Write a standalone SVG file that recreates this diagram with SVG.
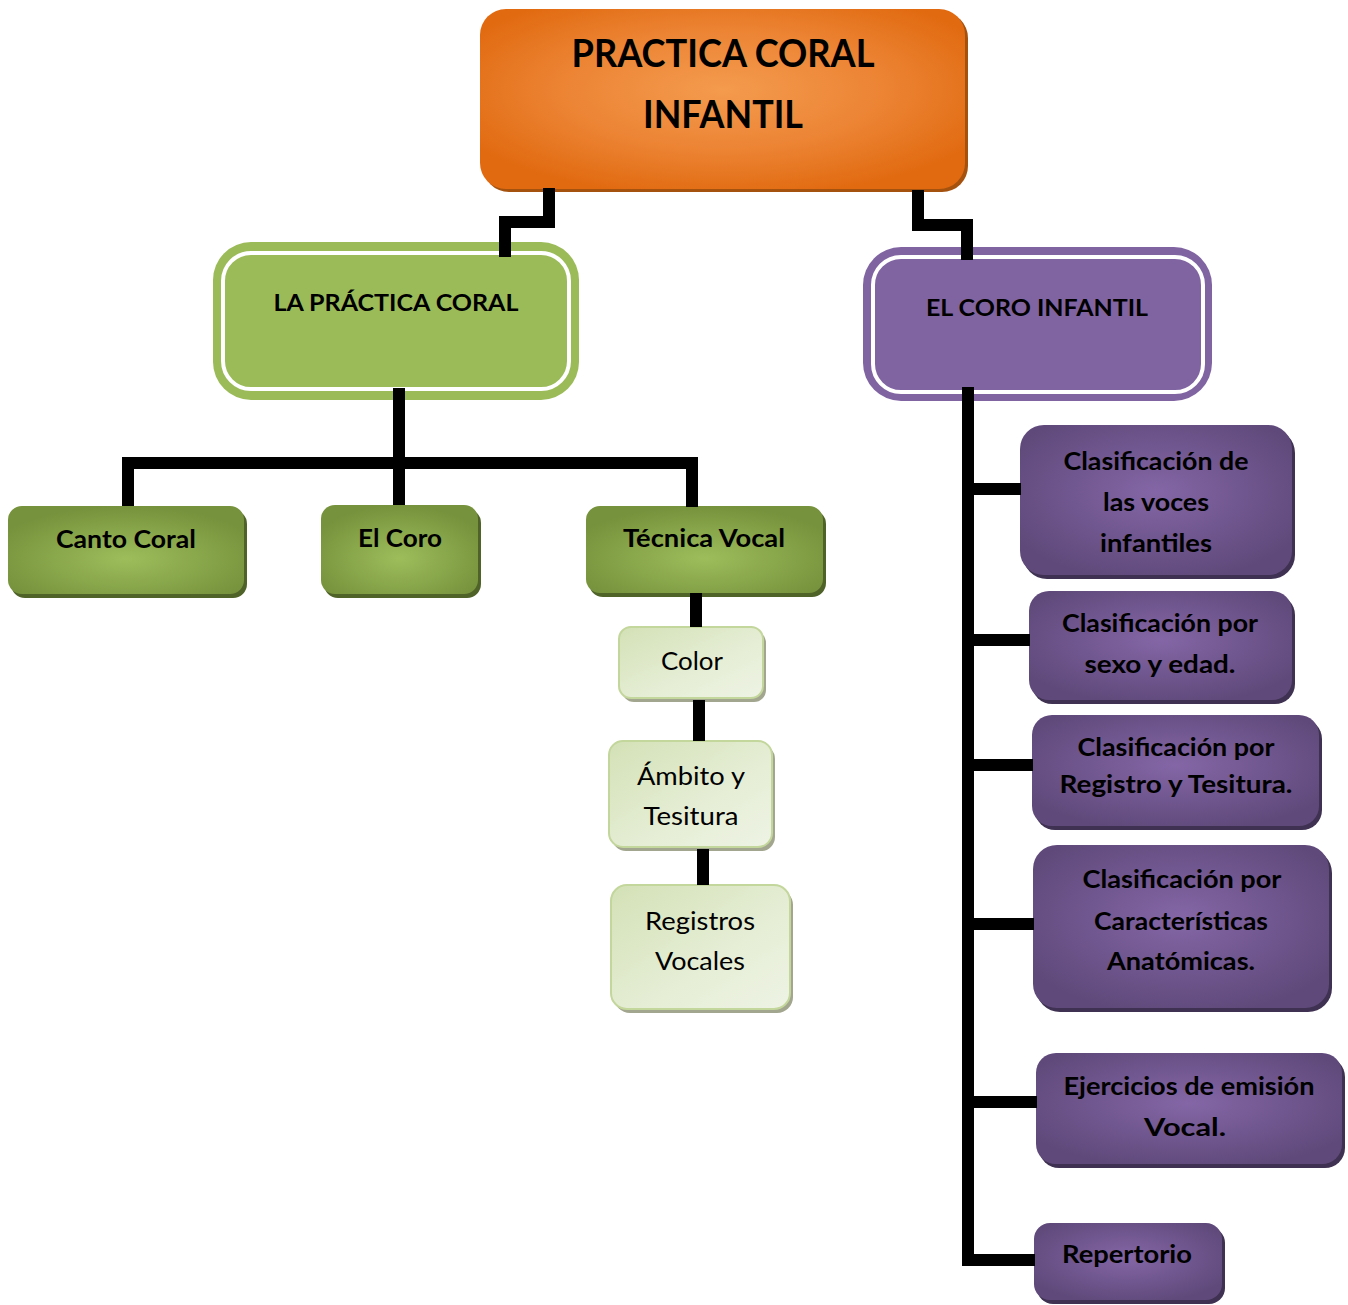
<svg xmlns="http://www.w3.org/2000/svg" width="1348" height="1305" viewBox="0 0 1348 1305">
<defs>
<radialGradient id="gOrange" cx="0.5" cy="0.45" r="0.6">
<stop offset="0" stop-color="#F49B4E"/><stop offset="0.55" stop-color="#EC8434"/><stop offset="1" stop-color="#E16A10"/>
</radialGradient>
<radialGradient id="gGreen" cx="0.5" cy="0.6" r="0.6">
<stop offset="0" stop-color="#9DBD5B"/><stop offset="1" stop-color="#76923C"/>
</radialGradient>
<linearGradient id="gLight" x1="0" y1="0" x2="1" y2="1">
<stop offset="0" stop-color="#D3E1B6"/><stop offset="0.6" stop-color="#E6EED6"/><stop offset="1" stop-color="#EEF3E4"/>
</linearGradient>
<radialGradient id="gPurple" cx="0.5" cy="0.45" r="0.6">
<stop offset="0" stop-color="#8466A6"/><stop offset="1" stop-color="#5F497A"/>
</radialGradient>
</defs>
<style>
.t{font-family:Lato,"Open Sans","Liberation Sans",sans-serif;fill:#000;text-anchor:middle}
.b{font-weight:bold}
.sh-o{fill:#A5520F}
.sh-g{fill:#4F6228}
.sh-l{fill:#A3A68E}
.sh-p{fill:#3F3151}
.lt{fill:url(#gLight);stroke:#C3D69B;stroke-width:2}
.dg{fill:url(#gGreen)}
.pp{fill:url(#gPurple)}
.wl{fill:none;stroke:#fff;stroke-width:4}
.c{fill:none;stroke:#000;stroke-width:12;stroke-linejoin:miter;stroke-linecap:butt}
</style>

<g id="node-root">
<rect class="sh-o" x="483" y="12" width="485" height="180" rx="26"/>
<rect fill="url(#gOrange)" x="480" y="9" width="485" height="180" rx="26"/>
<text class="t b" x="723" y="67" font-size="38" textLength="303" lengthAdjust="spacingAndGlyphs">PRACTICA CORAL</text>
<text class="t b" x="723" y="128" font-size="38" textLength="160" lengthAdjust="spacingAndGlyphs">INFANTIL</text>
</g>

<g id="node-practica">
<rect fill="#9BBB59" x="213" y="242" width="366" height="158" rx="38"/>
<rect class="wl" x="223" y="253" width="346" height="136" rx="28"/>
<text class="t b" x="396" y="311" font-size="23" textLength="245" lengthAdjust="spacingAndGlyphs">LA PRÁCTICA CORAL</text>
</g>

<g id="node-coro-infantil">
<rect fill="#8064A2" x="863" y="247" width="349" height="154" rx="38"/>
<rect class="wl" x="873" y="257" width="330" height="135" rx="28"/>
<text class="t b" x="1037" y="316" font-size="23" textLength="222" lengthAdjust="spacingAndGlyphs">EL CORO INFANTIL</text>
</g>

<g id="node-canto">
<rect class="sh-g" x="11" y="510" width="236" height="88" rx="14"/>
<rect class="dg" x="8" y="506" width="236" height="88" rx="14"/>
<text class="t b" x="126" y="548" font-size="25" textLength="140" lengthAdjust="spacingAndGlyphs">Canto Coral</text>
</g>

<g id="node-elcoro">
<rect class="sh-g" x="324" y="509" width="157" height="89" rx="14"/>
<rect class="dg" x="321" y="505" width="157" height="89" rx="14"/>
<text class="t b" x="400" y="547" font-size="25" textLength="84" lengthAdjust="spacingAndGlyphs">El Coro</text>
</g>

<g id="node-tecnica">
<rect class="sh-g" x="589" y="510" width="237" height="87" rx="14"/>
<rect class="dg" x="586" y="506" width="237" height="87" rx="14"/>
<text class="t b" x="704" y="547" font-size="25" textLength="162" lengthAdjust="spacingAndGlyphs">Técnica Vocal</text>
</g>

<g id="node-color">
<rect class="sh-l" x="622" y="631" width="144" height="71" rx="12"/>
<rect class="lt" x="619" y="627" width="144" height="71" rx="12"/>
<text class="t" x="692" y="670" font-size="25" textLength="62" lengthAdjust="spacingAndGlyphs">Color</text>
</g>

<g id="node-ambito">
<rect class="sh-l" x="612" y="745" width="163" height="106" rx="14"/>
<rect class="lt" x="609" y="741" width="163" height="106" rx="14"/>
<text class="t" x="691" y="785" font-size="25" textLength="108" lengthAdjust="spacingAndGlyphs">Ámbito y</text>
<text class="t" x="691" y="825" font-size="25" textLength="95" lengthAdjust="spacingAndGlyphs">Tesitura</text>
</g>

<g id="node-registros">
<rect class="sh-l" x="614" y="889" width="179" height="124" rx="16"/>
<rect class="lt" x="611" y="885" width="179" height="124" rx="16"/>
<text class="t" x="700" y="930" font-size="25" textLength="110" lengthAdjust="spacingAndGlyphs">Registros</text>
<text class="t" x="700" y="970" font-size="25" textLength="90" lengthAdjust="spacingAndGlyphs">Vocales</text>
</g>

<g id="node-clas-voces">
<rect class="sh-p" x="1023" y="429" width="272" height="150" rx="24"/>
<rect class="pp" x="1020" y="425" width="272" height="150" rx="24"/>
<text class="t b" x="1156" y="470" font-size="24" textLength="185" lengthAdjust="spacingAndGlyphs">Clasificación de</text>
<text class="t b" x="1156" y="511" font-size="24" textLength="106" lengthAdjust="spacingAndGlyphs">las voces</text>
<text class="t b" x="1156" y="552" font-size="24" textLength="112" lengthAdjust="spacingAndGlyphs">infantiles</text>
</g>

<g id="node-clas-sexo">
<rect class="sh-p" x="1032" y="595" width="263" height="109" rx="20"/>
<rect class="pp" x="1029" y="591" width="263" height="109" rx="20"/>
<text class="t b" x="1160" y="632" font-size="24" textLength="196" lengthAdjust="spacingAndGlyphs">Clasificación por</text>
<text class="t b" x="1160" y="673" font-size="24" textLength="151" lengthAdjust="spacingAndGlyphs">sexo y edad.</text>
</g>

<g id="node-clas-registro">
<rect class="sh-p" x="1035" y="719" width="287" height="111" rx="20"/>
<rect class="pp" x="1032" y="715" width="287" height="111" rx="20"/>
<text class="t b" x="1176" y="756" font-size="24" textLength="197" lengthAdjust="spacingAndGlyphs">Clasificación por</text>
<text class="t b" x="1176" y="793" font-size="24" textLength="233" lengthAdjust="spacingAndGlyphs">Registro y Tesitura.</text>
</g>

<g id="node-clas-anat">
<rect class="sh-p" x="1036" y="849" width="296" height="163" rx="24"/>
<rect class="pp" x="1033" y="845" width="296" height="163" rx="24"/>
<text class="t b" x="1182" y="888" font-size="24" textLength="199" lengthAdjust="spacingAndGlyphs">Clasificación por</text>
<text class="t b" x="1181" y="930" font-size="24" textLength="174" lengthAdjust="spacingAndGlyphs">Características</text>
<text class="t b" x="1181" y="970" font-size="24" textLength="148" lengthAdjust="spacingAndGlyphs">Anatómicas.</text>
</g>

<g id="node-ejercicios">
<rect class="sh-p" x="1039" y="1057" width="306" height="111" rx="20"/>
<rect class="pp" x="1036" y="1053" width="306" height="111" rx="20"/>
<text class="t b" x="1189" y="1095" font-size="24" textLength="251" lengthAdjust="spacingAndGlyphs">Ejercicios de emisión</text>
<text class="t b" x="1185" y="1136" font-size="24" textLength="82" lengthAdjust="spacingAndGlyphs">Vocal.</text>
</g>

<g id="node-repertorio">
<rect class="sh-p" x="1037" y="1227" width="188" height="77" rx="16"/>
<rect class="pp" x="1034" y="1223" width="188" height="77" rx="16"/>
<text class="t b" x="1127" y="1263" font-size="24" textLength="130" lengthAdjust="spacingAndGlyphs">Repertorio</text>
</g>

<g id="connectors">
<path class="c" d="M549,188 V222 H505 V257"/>
<path class="c" d="M918,190 V225 H967 V260"/>
<path class="c" d="M399,388 V505"/>
<path class="c" d="M128,506 V463 H692 V507"/>
<path class="c" d="M696,593 V627"/>
<path class="c" d="M699,700 V741"/>
<path class="c" d="M703,849 V885"/>
<path class="c" d="M968,387 V1260 H1035"/>
<path class="c" d="M968,489 H1021"/>
<path class="c" d="M968,640 H1030"/>
<path class="c" d="M968,765 H1033"/>
<path class="c" d="M968,924 H1034"/>
<path class="c" d="M968,1102 H1037"/>
</g>
</svg>
